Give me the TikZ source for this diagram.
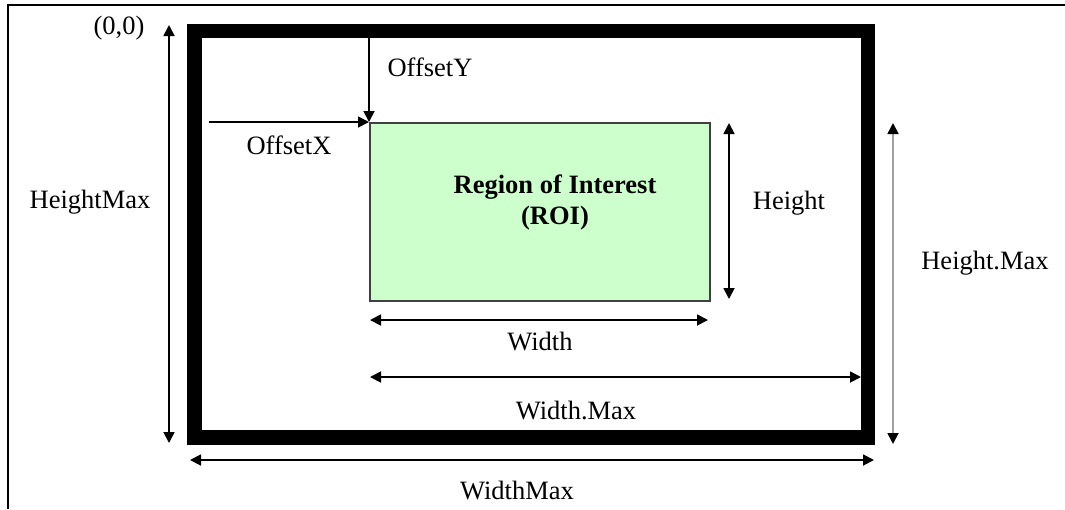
\documentclass[tikz,border=0pt]{standalone}
\usepackage{fontspec}
\setmainfont{Liberation Serif}
\usetikzlibrary{arrows.meta}
\definecolor{roigreen}{RGB}{204,255,204}
\definecolor{dimgray}{RGB}{160,160,160}
\begin{document}
\begin{tikzpicture}[x=1pt,y=-1pt,
  lbl/.style={font=\fontsize{26.5}{30}\selectfont, inner sep=0pt, text=black},
  dimone/.style={line width=1.8pt, -{Triangle[length=11pt,width=11pt]}},
  dimboth/.style={line width=1.8pt, {Triangle[length=11pt,width=11pt]}-{Triangle[length=11pt,width=11pt]}},
  dimgrey/.style={line width=1.8pt, draw=dimgray, {Triangle[length=11pt,width=11pt,color=black]}-{Triangle[length=11pt,width=11pt,color=black]}},
]
\useasboundingbox (0,0) rectangle (1065,509);
% outer page border (top and left)
\draw[line width=2pt] (8,509) -- (8,5) -- (1065,5);
% thick frame
\draw[line width=14.5pt] (194.5,31) rectangle (868,437.5);
% ROI
\node[draw=black!75, line width=1.5pt, fill=roigreen, minimum width=340pt, minimum height=178pt, inner sep=0pt, anchor=north west] (roi) at (369,122) {};
\node[lbl, font=\fontsize{26.5}{31}\selectfont\bfseries, align=center] (roitext) at (555,202.5) {Region of Interest\\(ROI)};
% coordinates
\coordinate (oyS) at (369,38);
\coordinate (oxS) at (209,122);
\coordinate (hT) at (729,123);
\coordinate (hB) at (729,299);
\coordinate (wL) at (370,320);
\coordinate (wR) at (708,320);
\coordinate (wmL) at (370,377);
\coordinate (wmR) at (861,377);
\coordinate (WmL) at (190,460);
\coordinate (WmR) at (874,460);
\coordinate (HmT) at (169,25);
\coordinate (HmB) at (169,443);
\coordinate (hmT) at (893,123);
\coordinate (hmB) at (893,444);
% arrows
\draw[dimone] (oyS) -- (roi.north west);
\draw[dimone] (oxS) -- (roi.north west);
\draw[dimboth] (hT) -- (hB);
\draw[dimboth] (wL) -- (wR);
\draw[dimboth] (wmL) -- (wmR);
\draw[dimboth] (WmL) -- (WmR);
\draw[dimboth] (HmT) -- (HmB);
\draw[dimgrey] (hmT) -- (hmB);
% labels
\node[lbl] (origin) at (119,28) {(0,0)};
\node[lbl] (offy) at (430,67) {OffsetY};
\node[lbl] (offx) at (289,145) {OffsetX};
\node[lbl] (hmaxl) at (90,202) {HeightMax};
\node[lbl] (hlab) at (789,203) {Height};
\node[lbl] (hmaxr) at (985,263) {Height.Max};
\node[lbl] (wlab) at (540,342) {Width};
\node[lbl] (wmaxi) at (576,410) {Width.Max};
\node[lbl] (wmaxo) at (517,490) {WidthMax};
\end{tikzpicture}
\end{document}
